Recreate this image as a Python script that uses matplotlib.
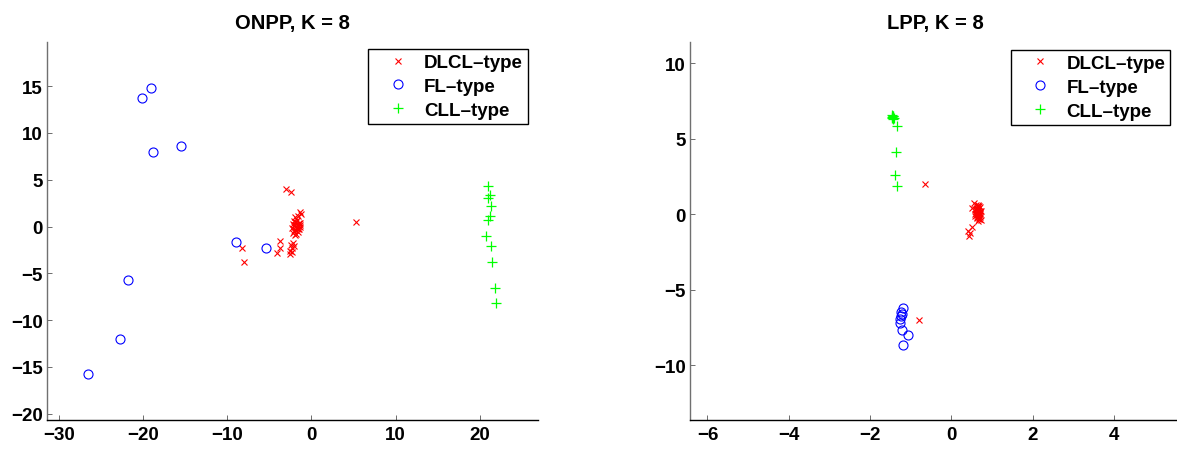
import matplotlib
matplotlib.use("Agg")
import matplotlib.pyplot as plt

plt.rcParams['font.family'] = ['Liberation Sans', 'DejaVu Sans']
plt.rcParams['font.weight'] = 'bold'

# ---------------- data ----------------
labels = ["DLCL–type", "FL–type", "CLL–type"]
titles = ["ONPP, K = 8", "LPP, K = 8"]

# ONPP panel
onpp_dlcl_x = [-3.0, -2.4, 5.35, -8.2, -8.0,
               -3.75, -3.75, -4.1,
               -2.6, -2.5, -2.3, -2.4, -2.2, -2.1, -2.35,
               -1.4, -1.2, -1.6, -2.0,
               -2.1, -1.8, -1.5, -2.2, -1.9, -1.6, -1.4, -2.0, -1.7, -2.3, -1.5, -1.9,
               -2.1, -1.6, -1.8, -2.0, -1.4, -1.7, -2.2, -1.3, -1.9, -1.6, -2.05]
onpp_dlcl_y = [4.0, 3.7, 0.45, -2.25, -3.75,
               -1.5, -2.25, -2.85,
               -2.95, -2.6, -2.3, -2.0, -1.8, -2.1, -2.7,
               1.5, 1.3, 1.1, 1.0,
               0.6, 0.5, 0.4, 0.3, 0.2, 0.1, 0.0, 0.0, -0.1, -0.2, -0.3, -0.35,
               -0.5, -0.6, -0.8, -0.95, 0.35, 0.65, -0.7, 0.2, 0.45, -0.25, 0.15]
onpp_fl_x = [-19.0, -20.1, -18.8, -15.5, -8.9, -5.35, -21.8, -22.7, -26.5]
onpp_fl_y = [14.8, 13.75, 8.0, 8.6, -1.7, -2.3, -5.7, -12.0, -15.75]
onpp_cll_x = [20.95, 21.2, 21.0, 21.3, 21.2, 20.95, 20.8, 21.3, 21.5, 21.8, 21.9]
onpp_cll_y = [4.3, 3.4, 3.0, 2.2, 1.1, 0.7, -1.0, -2.1, -3.75, -6.6, -8.2]

# LPP panel
lpp_dlcl_x = [-0.64, -0.8, 0.51, 0.42, 0.44, 0.47,
              0.55, 0.60, 0.65, 0.70, 0.62, 0.68, 0.58, 0.66, 0.72, 0.63,
              0.69, 0.61, 0.67, 0.71, 0.64, 0.59, 0.70, 0.66, 0.62, 0.68,
              0.73, 0.65, 0.60, 0.69, 0.67, 0.63, 0.71, 0.66, 0.64, 0.70,
              0.52, 0.57, 0.68, 0.62]
lpp_dlcl_y = [2.04, -6.97, -0.8, -1.1, -1.4, -1.25,
              0.75, 0.65, 0.55, 0.50, 0.45, 0.40, 0.35, 0.30, 0.25, 0.20,
              0.15, 0.10, 0.05, 0.0, -0.05, -0.1, -0.15, -0.2, -0.25, -0.3,
              -0.35, 0.6, 0.3, 0.55, -0.1, 0.05, 0.1, -0.4, 0.38, 0.22,
              0.45, 0.0, -0.28, -0.18]
lpp_fl_x = [-1.20, -1.24, -1.22, -1.25, -1.26, -1.27, -1.22, -1.07, -1.20]
lpp_fl_y = [-6.22, -6.48, -6.6, -6.75, -6.95, -7.21, -7.67, -7.98, -8.65]
lpp_cll_x = [-1.46, -1.44, -1.45, -1.43, -1.47, -1.44, -1.42, -1.34, -1.35, -1.38, -1.33]
lpp_cll_y = [6.4, 6.5, 6.6, 6.35, 6.45, 6.55, 6.42, 5.84, 4.11, 2.63, 1.9]

onpp_xticks = [-30, -20, -10, 0, 10, 20]
onpp_yticks = [-20, -15, -10, -5, 0, 5, 10, 15]
lpp_xticks = [-6, -4, -2, 0, 2, 4]
lpp_yticks = [-10, -5, 0, 5, 10]

# ---------------- figure ----------------
W, H = 1177, 452
fig = plt.figure(figsize=(W / 100, H / 100), dpi=100)

ax_w = 491 / W
ax_h = 378.6 / H
ax_b = (H - 421.3) / H
ax1 = fig.add_axes([46.7 / W, ax_b, ax_w, ax_h])
ax2 = fig.add_axes([690 / W, ax_b, ax_w, ax_h])

RED = (1, 0, 0)
BLUE = (0, 0, 1)
GREEN = (0, 1, 0)


def panel(ax, dx, dy, fx, fy, cx, cy, title, xlim, ylim, xt, yt, leg_anchor):
    h1, = ax.plot(dx, dy, linestyle='none', marker='x', color=RED, ms=4.5, mew=0.8)
    h2, = ax.plot(fx, fy, linestyle='none', marker='o', mfc='none', mec=BLUE, ms=6.5, mew=0.8)
    h3, = ax.plot(cx, cy, linestyle='none', marker='+', color=GREEN, ms=6.5, mew=0.9)
    ax.set_xlim(*xlim)
    ax.set_ylim(*ylim)
    ax.set_xticks(xt)
    ax.set_yticks(yt)
    ax.spines['top'].set_visible(False)
    ax.spines['right'].set_visible(False)
    ax.spines['left'].set_color('#707070')
    ax.spines['bottom'].set_color('black')
    ax.spines['left'].set_linewidth(1.0)
    ax.spines['bottom'].set_linewidth(1.0)
    ax.tick_params(direction='in', length=3.5, width=0.6, color='#555555',
                   labelsize=13.5)
    ax.tick_params(axis='x', pad=4)
    ax.tick_params(axis='y', pad=3)
    for lab in ax.get_xticklabels() + ax.get_yticklabels():
        lab.set_fontweight('bold')
    ax.set_title(title, fontsize=14.5, fontweight='bold', pad=10)
    leg = ax.legend([h1, h2, h3], labels, loc='upper right',
                    bbox_to_anchor=leg_anchor, bbox_transform=fig.transFigure,
                    borderaxespad=0, fancybox=False, framealpha=1,
                    edgecolor='black', handlelength=2.6, handletextpad=0.1,
                    labelspacing=0.36, borderpad=0.26,
                    prop={'weight': 'bold', 'size': 13.5})
    leg.get_frame().set_linewidth(1.0)


panel(ax1, onpp_dlcl_x, onpp_dlcl_y, onpp_fl_x, onpp_fl_y, onpp_cll_x, onpp_cll_y,
      titles[0], (-31.45, 26.89), (-20.71, 19.75), onpp_xticks, onpp_yticks,
      (527.7 / W, 1 - 50.1 / H))
panel(ax2, lpp_dlcl_x, lpp_dlcl_y, lpp_fl_x, lpp_fl_y, lpp_cll_x, lpp_cll_y,
      titles[1], (-6.43, 5.65), (-13.63, 11.44), lpp_xticks, lpp_yticks,
      (1170 / W, 1 - 51 / H))

fig.savefig('out.png', dpi=100)
